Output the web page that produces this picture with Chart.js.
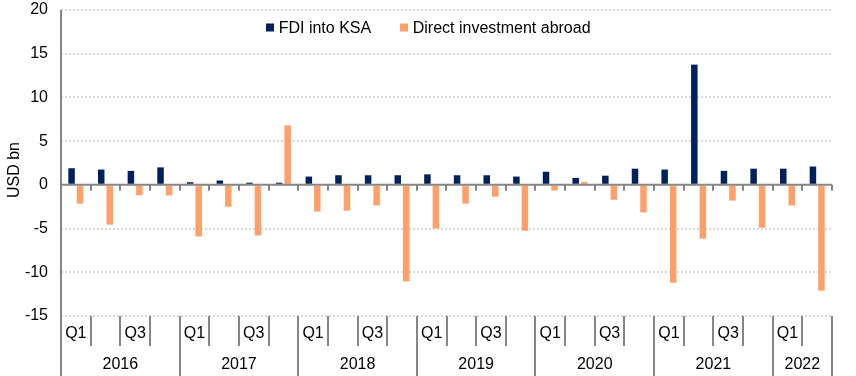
<!DOCTYPE html>
<html>
<head>
<meta charset="utf-8">
<script src="https://cdn.jsdelivr.net/npm/chart.js@4.4.1/dist/chart.umd.min.js"></script>
<style>
  html, body { margin: 0; padding: 0; background: #fff; }
  #wrap { width: 856px; height: 376px; position: relative; }
</style>
</head>
<body>
<div id="wrap"><canvas id="chart"></canvas></div>
<script>
// quarterly data, 2016 Q1 .. 2022 Q2
const years = ["2016", "2017", "2018", "2019", "2020", "2021", "2022"];
const quartersPerYear = [4, 4, 4, 4, 4, 4, 2];
const quarterTicks = ["Q1", "", "Q3", ""];

const fdiIntoKsa = [
    1.9, 1.75, 1.6, 2.0,
    0.3, 0.5, 0.25, 0.25,
    0.95, 1.1, 1.1, 1.1,
    1.2, 1.1, 1.1, 0.95,
    1.5, 0.8, 1.05, 1.85,
    1.75, 13.75, 1.6, 1.85,
    1.85, 2.1,
];
const directInvestmentAbroad = [
    -2.15, -4.55, -1.2, -1.2,
    -5.9, -2.5, -5.8, 6.8,
    -3.05, -2.95, -2.35, -11.05,
    -5.0, -2.15, -1.35, -5.25,
    -0.65, 0.35, -1.7, -3.15,
    -11.2, -6.15, -1.8, -4.9,
    -2.35, -12.1,
];

const yMin = -15;
const yMax = 20;
const yStep = 5;

const NAVY = "#00215d";
const ORANGE = "#ffa06b";
const AXIS = "#868686";
const GRID = "#d9d9d9";
const FONT = "'Liberation Sans', Arial, sans-serif";

const labels = [];
years.forEach((y, i) => {
    for (let q = 0; q < quartersPerYear[i]; q++) {
        labels.push(`${y} Q${q + 1}`);
    }
});

const axisDecor = {
    id: "axisDecor",
    afterDatasetsDraw(chart) {
        const { ctx, chartArea, scales } = chart;
        const x = scales.x;
        const y = scales.y;
        const step = x.getPixelForValue(1) - x.getPixelForValue(0);
        const zeroY = y.getPixelForValue(0);
        const bottom = chart.height;
        ctx.save();
        ctx.strokeStyle = AXIS;
        ctx.lineWidth = 2;

        // zero line with small ticks at category boundaries
        ctx.beginPath();
        ctx.moveTo(chartArea.left, zeroY);
        ctx.lineTo(chartArea.right, zeroY);
        for (let i = 0; i <= labels.length; i++) {
            const bx = Math.round(x.getPixelForValue(0) - step / 2 + i * step);
            ctx.moveTo(bx, zeroY);
            ctx.lineTo(bx, zeroY + 6);
        }
        ctx.stroke();

        // y axis line, running down to the bottom
        ctx.beginPath();
        ctx.moveTo(chartArea.left, chartArea.top);
        ctx.lineTo(chartArea.left, bottom);
        ctx.stroke();

        // category separators and labels below the plot
        ctx.fillStyle = "#000";
        ctx.font = `16px ${FONT}`;
        ctx.textAlign = "center";
        ctx.textBaseline = "middle";
        let idx = 0;
        years.forEach((yr, yi) => {
            const n = quartersPerYear[yi];
            const start = x.getPixelForValue(idx) - step / 2;
            for (let q = 0; q < n; q++) {
                const cx = x.getPixelForValue(idx + q);
                if (quarterTicks[q]) {
                    ctx.fillText(quarterTicks[q], cx, chartArea.bottom + 18);
                }
                const right = Math.round(cx + step / 2);
                ctx.beginPath();
                ctx.moveTo(right, chartArea.bottom);
                ctx.lineTo(right, q === n - 1 ? bottom : chartArea.bottom + 30);
                ctx.stroke();
            }
            const end = x.getPixelForValue(idx + n - 1) + step / 2;
            ctx.fillText(yr, (start + end) / 2, chartArea.bottom + 49);
            idx += n;
        });

        // y title
        ctx.save();
        ctx.translate(15, 170);
        ctx.rotate(-Math.PI / 2);
        ctx.fillText("USD bn", 0, 0);
        ctx.restore();

        // legend inside the plot area
        const items = [
            { text: "FDI into KSA", color: NAVY, dx: 205 },
            { text: "Direct investment abroad", color: ORANGE, dx: 339 },
        ];
        ctx.textAlign = "left";
        items.forEach((it) => {
            const lx = chartArea.left + it.dx;
            ctx.fillStyle = it.color;
            ctx.fillRect(lx, 23.5, 8, 8);
            ctx.fillStyle = "#000";
            ctx.fillText(it.text, lx + 12.7, 28.5);
        });
        ctx.restore();
    },
};

new Chart(document.getElementById("chart"), {
    type: "bar",
    data: {
        labels,
        datasets: [
            {
                label: "FDI into KSA",
                data: fdiIntoKsa,
                backgroundColor: NAVY,
                categoryPercentage: 0.573,
                barPercentage: 0.765,
            },
            {
                label: "Direct investment abroad",
                data: directInvestmentAbroad,
                backgroundColor: ORANGE,
                categoryPercentage: 0.573,
                barPercentage: 0.765,
            },
        ],
    },
    options: {
        responsive: true,
        maintainAspectRatio: false,
        animation: false,
        devicePixelRatio: 1,
        layout: { padding: { top: 10, right: 24, bottom: 60, left: 0 } },
        plugins: {
            legend: { display: false },
            tooltip: { enabled: false },
        },
        scales: {
            x: { display: false },
            y: {
                min: yMin,
                max: yMax,
                afterFit: (scale) => {
                    scale.width = 61;
                    scale.paddingTop = 0;
                    scale.paddingBottom = 0;
                },
                ticks: {
                    stepSize: yStep,
                    color: "#000",
                    padding: 13,
                    font: { family: FONT, size: 16 },
                },
                border: { display: false, dash: [2, 2] },
                grid: {
                    drawTicks: false,
                    lineWidth: 2,
                    color: (c) => (c.tick && c.tick.value === 0 ? "transparent" : GRID),
                },
            },
        },
    },
    plugins: [axisDecor],
});
</script>
</body>
</html>
